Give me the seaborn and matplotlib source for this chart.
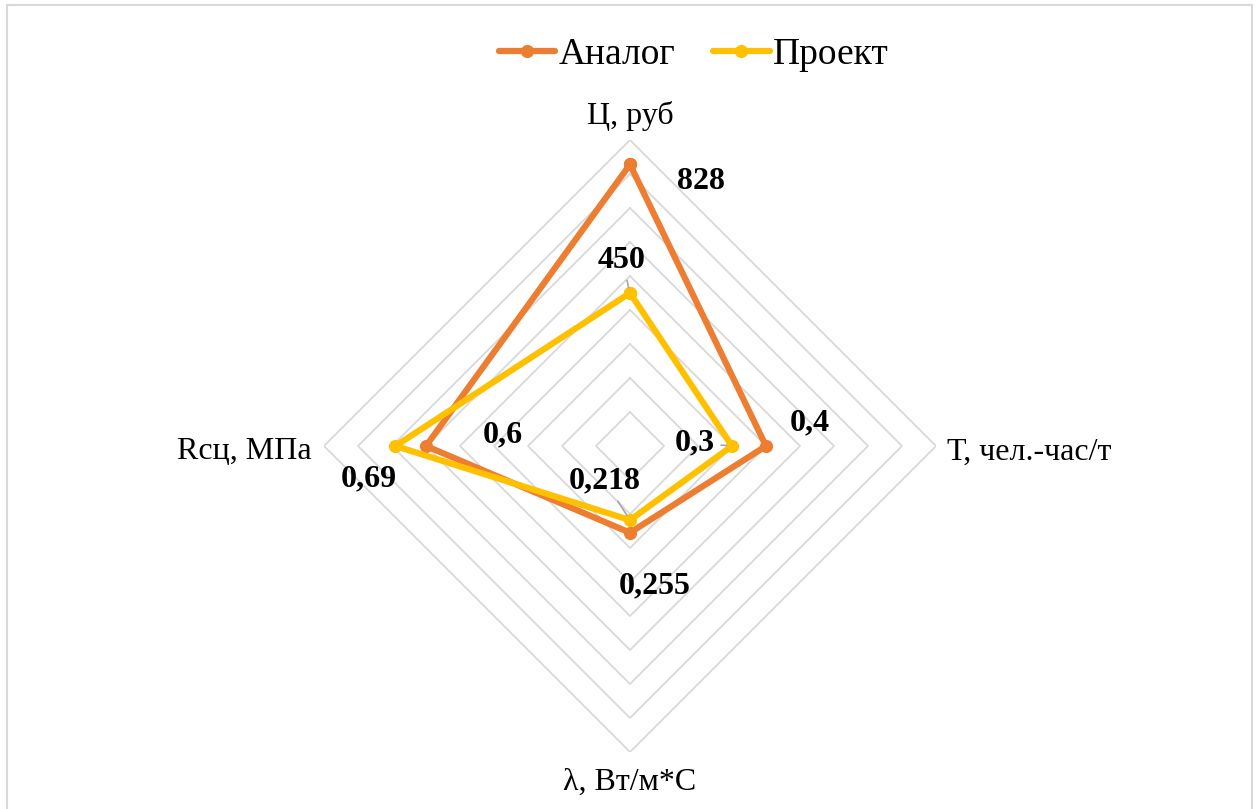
import numpy as np
import pandas as pd
import matplotlib
matplotlib.use("Agg")
import matplotlib.pyplot as plt
from matplotlib.patches import Rectangle
import seaborn as sns

# Radar chart data: four parameters, two variants
categories = ["Ц, руб", "Т, чел.-час/т", "λ, Вт/м*С", "Rсц, МПа"]
analog = [828, 0.4, 0.255, 0.6]
project = [450, 0.3, 0.218, 0.69]
# price is plotted in thousands so all axes share one 0..0.9 scale
axis_scale = [0.001, 1, 1, 1]
ring_levels = [0.1, 0.2, 0.3, 0.4, 0.5, 0.6, 0.7, 0.8, 0.9]

series_names = ["Аналог", "Проект"]
series_colors = ["#ED7D31", "#FFC000"]

sns.set_theme(style="white")
plt.rcParams["font.family"] = ["Liberation Serif", "DejaVu Serif"]
plt.rcParams["text.color"] = "black"

fig = plt.figure(figsize=(12.58, 8.09), dpi=100)
fig.patch.set_facecolor("white")

# chart-area border
fig.patches.append(Rectangle((7 / 1258, -0.02), 1245 / 1258, 1.02 - 5 / 809,
                             transform=fig.transFigure, fill=False,
                             edgecolor="#D9D9D9", linewidth=1.5))

ax = fig.add_axes([324 / 1258, 57 / 809, 612 / 1258, 612 / 809], projection="polar")
ax.set_theta_zero_location("N")
ax.set_theta_direction(-1)
ax.set_facecolor("none")

n = len(categories)
theta = np.linspace(0, 2 * np.pi, n, endpoint=False)
theta_closed = np.append(theta, theta[0] + 2 * np.pi)
r_max = ring_levels[-1]

# diamond grid rings
for lvl in ring_levels:
    ax.plot(theta_closed, [lvl] * (n + 1), color="#D9D9D9", linewidth=1.3, zorder=1)

frames = []
for name, vals in zip(series_names, [analog, project]):
    r = np.array(vals) * np.array(axis_scale)
    frames.append(pd.DataFrame({"theta": theta_closed,
                                "r": np.append(r, r[0]),
                                "series": name}))
df = pd.concat(frames, ignore_index=True)

for name, color in zip(series_names, series_colors):
    sub = df[df["series"] == name]
    sns.lineplot(data=sub, x="theta", y="r", sort=False, ax=ax, color=color,
                 linewidth=3.5, marker="o", markersize=9.5, markeredgewidth=0,
                 label=name, zorder=3)

ax.set_ylim(0, r_max)
ax.set_xticks([])
ax.set_yticks([])
ax.grid(False)
ax.spines["polar"].set_visible(False)
ax.set_xlabel("")
ax.set_ylabel("")

# category labels placed just outside the outer ring
cat_specs = [
    ((0, 24), "center"),
    ((11, -6), "left"),
    ((0, -30), "center"),
    ((-12, -5), "right"),
]
for t, lab, (off, ha) in zip(theta, categories, cat_specs):
    ax.annotate(lab, xy=(t, r_max), xytext=off, textcoords="offset pixels",
                ha=ha, va="center", fontsize=23, color="black", annotation_clip=False)

# value labels: (dx, dy) in pixels from the marker, leader line flag
def fmt(v):
    return f"{v:g}".replace(".", ",")

offsets = {
    "Аналог": [(71, -17, False), (44, 23, False), (25, -53, False), (77, 11, False)],
    "Проект": [(-8, 33, True), (-37, 3, True), (-25, 39, True), (-27, -33, False)],
}
for name, vals in zip(series_names, [analog, project]):
    for t, v, s, (dx, dy, lead) in zip(theta, vals, axis_scale, offsets[name]):
        arrow = None
        if lead:
            arrow = dict(arrowstyle="-", color="#A6A6A6", lw=1.2, shrinkA=2, shrinkB=4)
        ax.annotate(fmt(v), xy=(t, v * s), xytext=(dx, dy), textcoords="offset pixels",
                    ha="center", va="center", fontsize=23, fontweight="bold",
                    color="black", arrowprops=arrow, zorder=4, annotation_clip=False)

handles, labels = ax.get_legend_handles_labels()
for h in handles:
    h.set_linewidth(4.5)
leg = ax.legend(handles, labels, loc="center", bbox_to_anchor=(694 / 1258, 1 - 55 / 809),
                bbox_transform=fig.transFigure, ncol=2, frameon=False, fontsize=27,
                handlelength=1.5, handletextpad=0.1, columnspacing=1.0)
for txt in leg.get_texts():
    txt.set_color("black")

fig.savefig("out.png", dpi=100, facecolor="white")
